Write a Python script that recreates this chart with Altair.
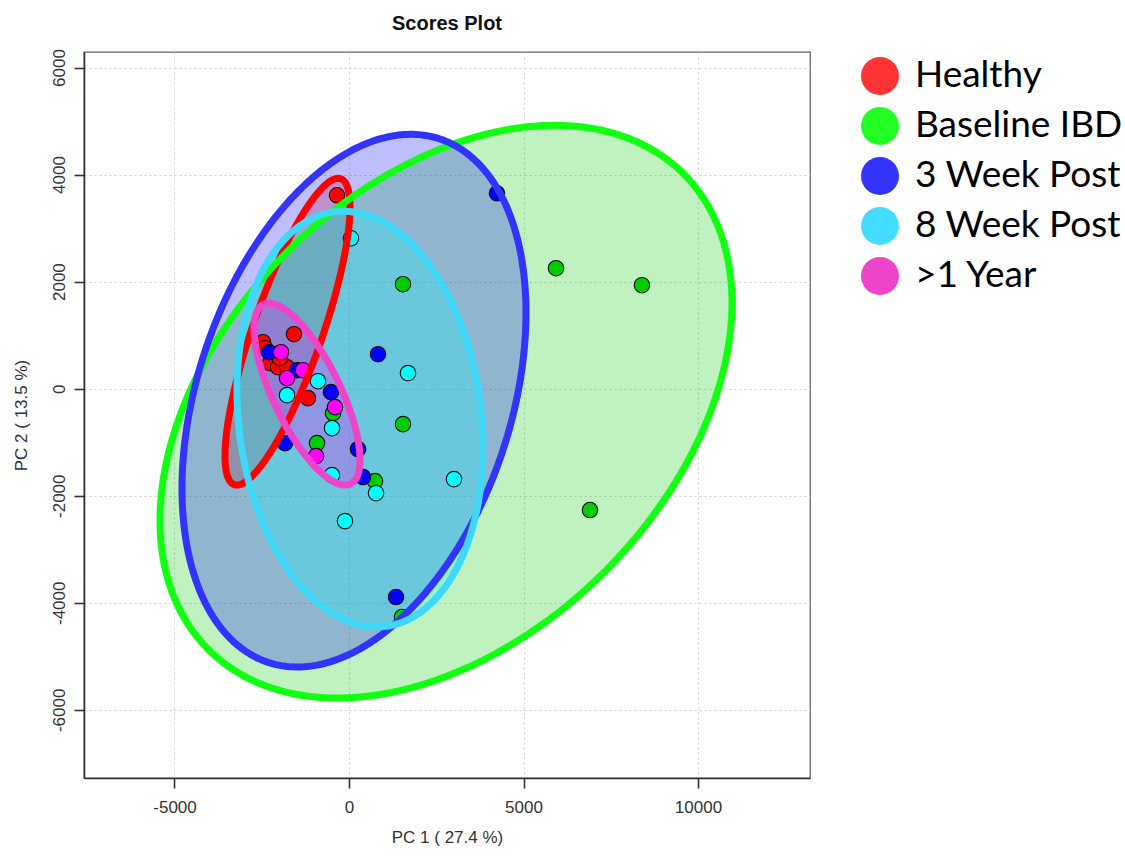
import numpy as np
import pandas as pd
import altair as alt

# Sample groups (legend order = drawing order)
groups = ["Healthy", "Baseline IBD", "3 Week Post", "8 Week Post", ">1 Year"]

# PCA scores (PC1, PC2) for each group
healthy_pc1 = [-1576, -2464, -2407, -2263, -2034, -1776, -1977, -1175, -344]
healthy_pc2 = [1018, 868, 756, 476, 401, 401, 569, -177, 3613]
baseline_pc1 = [1547, 5931, 8394, 1547, 6905, 1518, 745, -917, -458]
baseline_pc2 = [1951, 2250, 1933, -663, -2268, -4266, -1727, -1017, -457]
week3_pc1 = [4240, 831, 1347, 258, 401, -516, -1834, -2292, -1490]
week3_pc2 = [3650, 644, -3893, -1130, -1652, -65, -1017, 681, 345]
week8_pc1 = [57, 1690, 3008, -888, -1776, -487, -487, 774, -115]
week8_pc2 = [2810, 290, -1690, 140, -121, -737, -1615, -1951, -2474]
year1_pc1 = [-1948, -1776, -1318, -401, -945]
year1_pc2 = [681, 196, 345, -345, -1260]

# 95% confidence ellipses: centre, spread along PC1 / PC2, correlation
ell_cx = [-1762, 2779, 143, 315, -1203]
ell_cy = [1064, -430, -224, -569, -103]
ell_sx = [1791, 8195, 4928, 3524, 1518]
ell_sy = [2866, 5350, 4976, 3883, 1699]
ell_rho = [0.81, 0.38, 0.33, -0.135, -0.72]

# Colours
fill_colors = ["#ff0000", "#00cd00", "#0000ff", "#00ffff", "#ff00ff"]
outline_colors = ["#ff0000", "#11ff11", "#3333ff", "#40d8f8", "#ee44cc"]
legend_colors = ["#ff3333", "#22ff22", "#3333ff", "#44ddff", "#ee44cc"]

# Axis ticks and ranges
x_ticks = [-5000, 0, 5000, 10000]
y_ticks = [-6000, -4000, -2000, 0, 2000, 4000, 6000]
x_domain = [-7593, 13209]
y_domain = [-7274, 6290]

pc1_lists = [healthy_pc1, baseline_pc1, week3_pc1, week8_pc1, year1_pc1]
pc2_lists = [healthy_pc2, baseline_pc2, week3_pc2, week8_pc2, year1_pc2]

points = pd.DataFrame(
    [
        {"group": g, "pc1": x, "pc2": y}
        for g, xs, ys in zip(groups, pc1_lists, pc2_lists)
        for x, y in zip(xs, ys)
    ]
)

# Ellipse geometry from the covariance-style parameters
def ellipse_band(i, n=181):
    t = np.linspace(0, np.pi, n)
    s = np.sqrt(1 - ell_rho[i] ** 2)
    x = ell_cx[i] + ell_sx[i] * np.cos(t)
    yh = ell_cy[i] + ell_sy[i] * (ell_rho[i] * np.cos(t) + s * np.sin(t))
    yl = ell_cy[i] + ell_sy[i] * (ell_rho[i] * np.cos(t) - s * np.sin(t))
    return pd.DataFrame({"group": groups[i], "pc1": x, "pc2": yh, "pc2_lo": yl})


def ellipse_outline(i, n=361):
    t = np.linspace(0, 2 * np.pi, n)
    s = np.sqrt(1 - ell_rho[i] ** 2)
    x = ell_cx[i] + ell_sx[i] * np.cos(t)
    y = ell_cy[i] + ell_sy[i] * (ell_rho[i] * np.cos(t) + s * np.sin(t))
    return pd.DataFrame({"group": groups[i], "pc1": x, "pc2": y, "idx": np.arange(n)})


FONT = "Liberation Sans"

x_enc = alt.X(
    "pc1:Q",
    scale=alt.Scale(domain=x_domain, nice=False, zero=False),
    axis=alt.Axis(
        values=x_ticks,
        title="PC 1 ( 27.4 %)",
        labelExpr="'' + datum.value",
        labelPadding=11,
        titlePadding=14,
    ),
)
y_enc = alt.Y(
    "pc2:Q",
    scale=alt.Scale(domain=y_domain, nice=False, zero=False),
    axis=alt.Axis(
        values=y_ticks,
        title="PC 2 ( 13.5 %)",
        labelExpr="'' + datum.value",
        labelAngle=270,
        labelAlign="center",
        labelBaseline="alphabetic",
        labelPadding=10,
        titlePadding=20,
    ),
)

# Mark colour scales (listed last-to-first so they stay separate from the legend scale)
fill_scale = alt.Scale(domain=groups[::-1], range=fill_colors[::-1])
stroke_scale = alt.Scale(domain=groups[::-1], range=outline_colors[::-1])

layers = []

# Translucent ellipse fills
for i in range(len(groups)):
    layers.append(
        alt.Chart(ellipse_band(i))
        .mark_area(fillOpacity=0.25, strokeWidth=0)
        .encode(
            x=x_enc,
            y=y_enc,
            y2="pc2_lo:Q",
            fill=alt.Fill("group:N", scale=fill_scale, legend=None),
        )
    )

# Legend source (small circles hidden under the score points)
layers.append(
    alt.Chart(points)
    .mark_circle(size=4, opacity=1)
    .encode(
        x=x_enc,
        y=y_enc,
        color=alt.Color(
            "group:N",
            scale=alt.Scale(domain=groups, range=legend_colors),
            legend=alt.Legend(
                title=None,
                orient="none",
                legendX=777,
                legendY=5,
                symbolType="circle",
                symbolSize=1444,
                symbolStrokeWidth=0,
                symbolOpacity=1,
                labelFont="Lato",
                labelFontSize=37,
                labelColor="#000000",
                labelLimit=0,
                labelOffset=16,
                rowPadding=12,
                padding=0,
            ),
        ),
    )
)

# Score points
layers.append(
    alt.Chart(points)
    .mark_circle(size=240, opacity=1, stroke="#111111", strokeWidth=1.1)
    .encode(
        x=x_enc,
        y=y_enc,
        fill=alt.Fill("group:N", scale=fill_scale, legend=None),
    )
)

# Ellipse outlines
for i in range(len(groups)):
    layers.append(
        alt.Chart(ellipse_outline(i))
        .mark_line(strokeWidth=7, strokeCap="round", strokeJoin="round")
        .encode(
            x=x_enc,
            y=y_enc,
            order=alt.Order("idx:Q"),
            stroke=alt.Stroke("group:N", scale=stroke_scale, legend=None),
        )
    )

chart = (
    alt.layer(*layers)
    .properties(
        width=726,
        height=726,
        title=alt.TitleParams(
            "Scores Plot",
            font=FONT,
            fontSize=20,
            fontWeight="bold",
            color="#111111",
            anchor="middle",
            frame="group",
            offset=15,
        ),
        padding={"left": 84, "top": 52, "right": 315, "bottom": 82},
        autosize=alt.AutoSizeParams(type="none"),
        background="white",
    )
    .configure_view(stroke="#666666", strokeWidth=1.3)
    .configure_axis(
        labelFont=FONT,
        titleFont=FONT,
        labelFontSize=17,
        titleFontSize=17,
        titleFontWeight="normal",
        labelColor="#333333",
        titleColor="#333333",
        domainColor="#333333",
        domainWidth=1.6,
        tickColor="#333333",
        tickWidth=1.6,
        tickSize=10,
        grid=True,
        gridColor="#cfcfcf",
        gridDash=[2, 3],
        gridWidth=1,
    )
)

chart.save("out.html", embed_options={"renderer": "svg", "actions": False})
